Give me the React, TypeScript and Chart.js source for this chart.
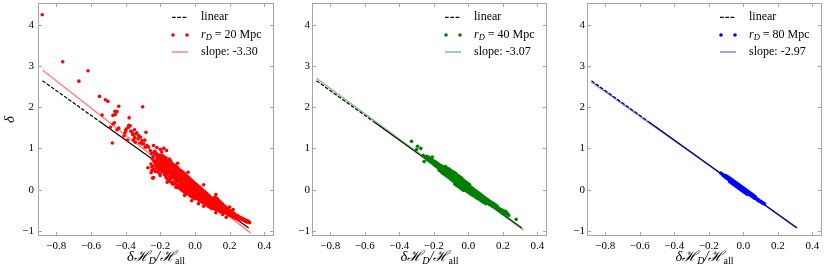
import React, { useEffect, useRef } from "react";
import { Chart, registerables } from "chart.js";

Chart.register(...registerables);

// ---------- tick labels / axis limits ----------
const xTicks = [-0.8, -0.6, -0.4, -0.2, 0.0, 0.2, 0.4];
const yTicks = [-1, 0, 1, 2, 3, 4];
const xLimits = [-0.9, 0.45];
const yLimits = [-1.1, 4.5];

// ---------- legend labels ----------
const radii = ["20", "40", "80"];
const slopeLabels = ["slope: -3.30", "slope: -3.07", "slope: -2.97"];

// ---------- lines ----------
const linearLine: [number, number][] = [[-0.88, 2.64], [-0.55, 1.65], [0.31, -0.93]];
const slopeLine20: [number, number][] = [[-0.88, 2.9], [0.32, -1.05]];
const slopeLine40: [number, number][] = [[-0.88, 2.7], [0.32, -0.98]];
const slopeLine80: [number, number][] = [[-0.88, 2.61], [0.31, -0.92]];

// ---------- scatter points: r_D = 20 Mpc ----------
const points20: [number, number][] = [
  [-0.881, 4.24], [-0.763, 3.1], [-0.617, 2.88], [-0.67, 2.63], [-0.551, 2.26], [-0.517, 2.18], [-0.503, 2.14],
  [-0.44, 2.02], [-0.302, 2.01], [-0.536, 1.81], [-0.473, 1.8], [-0.46, 1.82], [-0.45, 1.89], [-0.462, 1.9],
  [-0.38, 1.74], [-0.488, 1.51], [-0.473, 1.59], [-0.465, 1.62], [-0.44, 1.49], [-0.45, 1.45], [-0.397, 1.47],
  [-0.374, 1.55], [-0.384, 1.51], [-0.382, 1.56], [-0.477, 1.13], [-0.404, 1.37], [-0.4, 1.43], [-0.363, 1.39],
  [-0.359, 1.33], [-0.349, 1.45], [-0.344, 1.35], [-0.335, 1.38], [-0.325, 1.31], [-0.348, 1.26], [-0.329, 1.23],
  [-0.315, 1.27], [-0.306, 1.19], [-0.319, 1.13], [-0.296, 1.11], [-0.283, 1.39], [-0.277, 1.07], [-0.268, 1.03],
  [-0.258, 0.95], [-0.239, 1.07], [-0.344, 1.15], [-0.306, 1.11], [-0.287, 1.03], [-0.37, 1.42], [-0.39, 1.2],
  [-0.41, 1.3], [-0.355, 1.2], [-0.29, 1.2], [-0.272, 0.53], [-0.249, 0.46], [-0.239, 0.29], [-0.245, 0.28],
  [-0.192, 0.91], [-0.164, 0.95], [-0.135, 0.34], [-0.201, 0.34], [-0.131, 0.14], [-0.16, 0.18], [-0.1, 0.05],
  [-0.2, 0.98], [-0.22, 1.02], [-0.18, 1.0], [-0.1, 0.64], [-0.04, 0.42], [0.05, 0.12], [0.12, -0.12],
  [0.12, -0.56], [0.16, -0.6], [0.18, -0.67], [0.2, -0.42], [0.22, -0.48], [0.05, -0.4], [0.02, -0.34],
  [-0.02, -0.27], [-0.06, -0.14], [-0.11, 0.06],
  [-0.251, 0.88], [-0.246, 0.74], [-0.254, 0.62], [-0.249, 0.55], [-0.253, 0.41],
  [-0.238, 0.9], [-0.242, 0.8], [-0.236, 0.69], [-0.241, 0.57], [-0.239, 0.49],
  [-0.232, 0.93], [-0.228, 0.85], [-0.231, 0.66], [-0.226, 0.6], [-0.229, 0.44],
  [-0.221, 0.87], [-0.218, 0.78], [-0.223, 0.7], [-0.216, 0.62], [-0.222, 0.53], [-0.219, 0.45],
  [-0.211, 0.84], [-0.207, 0.74], [-0.213, 0.67], [-0.209, 0.58], [-0.206, 0.5], [-0.212, 0.42],
  [-0.198, 0.82], [-0.203, 0.76], [-0.197, 0.68], [-0.2, 0.61], [-0.204, 0.55], [-0.196, 0.47], [-0.202, 0.38],
  [-0.191, 0.83], [-0.187, 0.77], [-0.193, 0.71], [-0.189, 0.64], [-0.186, 0.57], [-0.192, 0.5], [-0.188, 0.43],
  [-0.181, 0.8], [-0.177, 0.74], [-0.183, 0.66], [-0.178, 0.59], [-0.184, 0.52], [-0.179, 0.45], [-0.176, 0.36],
  [-0.168, 0.77], [-0.173, 0.69], [-0.166, 0.62], [-0.172, 0.55], [-0.169, 0.49], [-0.174, 0.41], [-0.167, 0.3],
  [-0.157, 0.72], [-0.163, 0.65], [-0.158, 0.58], [-0.156, 0.51], [-0.162, 0.44], [-0.159, 0.37], [-0.161, 0.26],
  [-0.148, 0.74], [-0.153, 0.68], [-0.147, 0.6], [-0.152, 0.53], [-0.149, 0.46], [-0.154, 0.39], [-0.146, 0.31], [-0.15, 0.22],
  [-0.141, 0.7], [-0.143, 0.62], [-0.138, 0.55], [-0.144, 0.48], [-0.139, 0.41], [-0.136, 0.34], [-0.142, 0.27], [-0.137, 0.18],
  [-0.133, 0.64], [-0.128, 0.57], [-0.126, 0.5], [-0.132, 0.43], [-0.129, 0.36], [-0.134, 0.29], [-0.127, 0.18],
  [-0.123, 0.6], [-0.117, 0.52], [-0.122, 0.45], [-0.119, 0.38], [-0.124, 0.31], [-0.116, 0.24], [-0.12, 0.13],
  [-0.113, 0.58], [-0.107, 0.51], [-0.112, 0.44], [-0.109, 0.37], [-0.114, 0.3], [-0.106, 0.22], [-0.11, 0.15],
  [-0.103, 0.55], [-0.097, 0.48], [-0.102, 0.41], [-0.099, 0.34], [-0.104, 0.27], [-0.096, 0.2], [-0.1, 0.1],
  [-0.093, 0.5], [-0.087, 0.43], [-0.092, 0.36], [-0.089, 0.29], [-0.094, 0.22], [-0.086, 0.15], [-0.09, 0.08], [-0.088, 0.03],
  [-0.083, 0.46], [-0.077, 0.39], [-0.082, 0.32], [-0.079, 0.25], [-0.084, 0.18], [-0.076, 0.11], [-0.08, 0.04], [-0.078, -0.01],
  [-0.073, 0.43], [-0.067, 0.36], [-0.072, 0.29], [-0.069, 0.22], [-0.074, 0.15], [-0.066, 0.08], [-0.07, 0.02], [-0.068, -0.04],
  [-0.063, 0.4], [-0.057, 0.33], [-0.062, 0.26], [-0.059, 0.19], [-0.064, 0.12], [-0.056, 0.05], [-0.06, -0.02], [-0.058, -0.08],
  [-0.053, 0.36], [-0.047, 0.29], [-0.052, 0.22], [-0.049, 0.15], [-0.054, 0.08], [-0.046, 0.01], [-0.05, -0.05], [-0.048, -0.1],
  [-0.043, 0.32], [-0.037, 0.25], [-0.042, 0.18], [-0.039, 0.11], [-0.044, 0.04], [-0.036, -0.03], [-0.04, -0.1],
  [-0.033, 0.28], [-0.027, 0.21], [-0.032, 0.14], [-0.029, 0.07], [-0.034, 0.0], [-0.026, -0.07], [-0.03, -0.14],
  [-0.023, 0.24], [-0.017, 0.17], [-0.022, 0.1], [-0.019, 0.03], [-0.024, -0.04], [-0.016, -0.11], [-0.02, -0.17],
  [-0.013, 0.2], [-0.007, 0.13], [-0.012, 0.06], [-0.009, -0.01], [-0.014, -0.08], [-0.006, -0.15], [-0.01, -0.2],
  [-0.003, 0.16], [0.003, 0.09], [-0.002, 0.02], [0.001, -0.05], [-0.004, -0.12], [0.004, -0.19], [0.0, -0.22],
  [0.007, 0.13], [0.013, 0.06], [0.008, -0.01], [0.011, -0.08], [0.006, -0.15], [0.014, -0.22],
  [0.017, 0.09], [0.023, 0.02], [0.018, -0.05], [0.021, -0.12], [0.016, -0.19], [0.024, -0.26],
  [0.027, 0.06], [0.033, -0.01], [0.028, -0.08], [0.031, -0.15], [0.026, -0.22], [0.034, -0.28],
  [0.037, 0.02], [0.043, -0.05], [0.038, -0.12], [0.041, -0.19], [0.036, -0.26], [0.044, -0.31],
  [0.047, -0.02], [0.053, -0.09], [0.048, -0.16], [0.051, -0.23], [0.046, -0.3],
  [0.057, -0.05], [0.063, -0.12], [0.058, -0.19], [0.061, -0.26], [0.056, -0.33],
  [0.067, -0.09], [0.073, -0.16], [0.068, -0.23], [0.071, -0.3], [0.066, -0.36],
  [0.077, -0.13], [0.083, -0.2], [0.078, -0.27], [0.081, -0.34], [0.076, -0.4],
  [0.087, -0.17], [0.093, -0.24], [0.088, -0.31], [0.091, -0.38], [0.086, -0.43],
  [0.097, -0.21], [0.103, -0.28], [0.098, -0.35], [0.101, -0.41], [0.096, -0.46],
  [0.112, -0.19], [0.107, -0.26], [0.113, -0.33], [0.108, -0.4], [0.111, -0.46],
  [0.119, -0.2], [0.122, -0.24], [0.117, -0.31], [0.123, -0.38], [0.118, -0.44], [0.121, -0.49],
  [0.129, -0.22], [0.132, -0.29], [0.127, -0.36], [0.133, -0.42], [0.128, -0.48],
  [0.139, -0.27], [0.142, -0.33], [0.137, -0.4], [0.143, -0.46], [0.138, -0.51],
  [0.149, -0.31], [0.152, -0.38], [0.147, -0.44], [0.153, -0.5], [0.148, -0.54],
  [0.159, -0.35], [0.162, -0.42], [0.157, -0.48], [0.163, -0.53],
  [0.169, -0.39], [0.172, -0.45], [0.167, -0.51], [0.173, -0.56],
  [0.179, -0.43], [0.182, -0.49], [0.177, -0.54], [0.183, -0.58],
  [0.189, -0.47], [0.192, -0.52], [0.187, -0.57], [0.193, -0.61],
  [0.199, -0.5], [0.202, -0.55], [0.197, -0.6], [0.203, -0.63],
  [0.209, -0.53], [0.212, -0.58], [0.207, -0.63],
  [0.219, -0.56], [0.222, -0.61], [0.217, -0.66],
  [0.229, -0.59], [0.232, -0.64], [0.227, -0.68],
  [0.239, -0.62], [0.242, -0.66], [0.237, -0.7],
  [0.249, -0.64], [0.252, -0.69], [0.247, -0.72],
  [0.259, -0.67], [0.262, -0.71], [0.269, -0.69], [0.272, -0.73],
  [0.279, -0.71], [0.282, -0.75], [0.289, -0.73], [0.292, -0.77],
  [0.299, -0.75], [0.302, -0.79], [0.309, -0.77], [0.315, -0.8],
];

// ---------- scatter points: r_D = 40 Mpc ----------
const points40: [number, number][] = [
  [-0.329, 1.17], [-0.294, 1.05], [-0.3, 0.97], [-0.275, 1.0], [-0.262, 0.83], [-0.252, 0.79], [-0.243, 0.81],
  [-0.233, 0.77], [-0.256, 0.68], [-0.223, 0.71], [-0.209, 0.79], [-0.205, 0.68], [0.214, -0.61], [0.234, -0.63],
  [0.277, -0.72], [0.2, -0.58], [0.23, -0.59],
  [-0.24, 0.78], [-0.238, 0.73], [-0.231, 0.75], [-0.228, 0.7], [-0.232, 0.79],
  [-0.221, 0.72], [-0.218, 0.67], [-0.223, 0.76], [-0.211, 0.69], [-0.208, 0.64], [-0.212, 0.73],
  [-0.201, 0.66], [-0.198, 0.6], [-0.203, 0.7], [-0.191, 0.63], [-0.188, 0.57], [-0.193, 0.68],
  [-0.181, 0.6], [-0.178, 0.54], [-0.183, 0.65], [-0.171, 0.57], [-0.168, 0.51], [-0.173, 0.62], [-0.169, 0.47],
  [-0.161, 0.54], [-0.158, 0.48], [-0.163, 0.59], [-0.159, 0.44], [-0.151, 0.51], [-0.148, 0.45], [-0.153, 0.57], [-0.149, 0.4],
  [-0.141, 0.48], [-0.138, 0.42], [-0.143, 0.54], [-0.139, 0.37],
  [-0.131, 0.45], [-0.128, 0.39], [-0.133, 0.51], [-0.129, 0.34], [-0.132, 0.56],
  [-0.121, 0.42], [-0.118, 0.36], [-0.123, 0.48], [-0.119, 0.31], [-0.122, 0.52],
  [-0.111, 0.39], [-0.108, 0.33], [-0.113, 0.45], [-0.109, 0.28], [-0.112, 0.5],
  [-0.101, 0.36], [-0.098, 0.3], [-0.103, 0.42], [-0.099, 0.24], [-0.102, 0.47],
  [-0.091, 0.33], [-0.088, 0.27], [-0.093, 0.39], [-0.089, 0.21], [-0.092, 0.44],
  [-0.081, 0.3], [-0.078, 0.24], [-0.083, 0.36], [-0.079, 0.18], [-0.082, 0.42], [-0.077, 0.13],
  [-0.071, 0.27], [-0.068, 0.21], [-0.073, 0.33], [-0.069, 0.15], [-0.072, 0.39], [-0.067, 0.1],
  [-0.061, 0.24], [-0.058, 0.18], [-0.063, 0.3], [-0.059, 0.12], [-0.062, 0.35], [-0.057, 0.07],
  [-0.051, 0.21], [-0.048, 0.15], [-0.053, 0.27], [-0.049, 0.09], [-0.052, 0.32], [-0.047, 0.04],
  [-0.041, 0.18], [-0.038, 0.12], [-0.043, 0.24], [-0.039, 0.06], [-0.042, 0.29], [-0.037, 0.01],
  [-0.031, 0.15], [-0.028, 0.09], [-0.033, 0.21], [-0.029, 0.03], [-0.032, 0.25], [-0.027, -0.02],
  [-0.021, 0.11], [-0.018, 0.05], [-0.023, 0.17], [-0.019, -0.01], [-0.022, 0.21],
  [-0.011, 0.08], [-0.008, 0.02], [-0.013, 0.14], [-0.009, -0.04], [-0.012, 0.18],
  [-0.001, 0.05], [0.002, -0.01], [-0.003, 0.11], [0.001, -0.07], [-0.002, 0.15],
  [0.009, 0.02], [0.012, -0.04], [0.007, 0.08], [0.011, -0.1], [0.008, 0.12],
  [0.019, -0.01], [0.022, -0.07], [0.017, 0.05], [0.021, -0.13],
  [0.029, -0.04], [0.032, -0.1], [0.027, 0.02], [0.031, -0.15],
  [0.039, -0.07], [0.042, -0.13], [0.037, -0.01], [0.041, -0.18],
  [0.049, -0.1], [0.052, -0.16], [0.047, -0.04], [0.051, -0.21],
  [0.059, -0.13], [0.062, -0.19], [0.057, -0.07], [0.061, -0.23],
  [0.069, -0.16], [0.072, -0.22], [0.067, -0.1], [0.071, -0.26],
  [0.079, -0.19], [0.082, -0.25], [0.077, -0.13], [0.081, -0.29],
  [0.089, -0.22], [0.092, -0.28], [0.087, -0.17], [0.091, -0.31],
  [0.099, -0.25], [0.102, -0.31], [0.097, -0.2], [0.101, -0.34],
  [0.109, -0.28], [0.112, -0.33], [0.107, -0.23], [0.119, -0.31], [0.122, -0.36], [0.117, -0.26],
  [0.129, -0.33], [0.132, -0.38], [0.127, -0.29], [0.139, -0.36], [0.142, -0.41], [0.137, -0.32],
  [0.149, -0.38], [0.152, -0.43], [0.147, -0.34], [0.159, -0.41], [0.162, -0.45], [0.157, -0.37],
  [0.169, -0.43], [0.172, -0.47], [0.167, -0.4], [0.179, -0.46], [0.182, -0.49],
  [0.189, -0.48], [0.192, -0.51], [0.199, -0.5], [0.202, -0.53], [0.209, -0.52], [0.212, -0.55],
  [0.219, -0.54], [0.222, -0.57],
];

// ---------- scatter points: r_D = 80 Mpc ----------
const points80: [number, number][] = [
  [-0.13, 0.4], [-0.121, 0.37], [-0.118, 0.35], [-0.111, 0.34], [-0.108, 0.31],
  [-0.101, 0.31], [-0.098, 0.28], [-0.103, 0.34], [-0.091, 0.29], [-0.088, 0.25], [-0.093, 0.32],
  [-0.081, 0.26], [-0.078, 0.22], [-0.083, 0.29], [-0.079, 0.19],
  [-0.071, 0.23], [-0.068, 0.19], [-0.073, 0.26], [-0.069, 0.16],
  [-0.061, 0.2], [-0.058, 0.16], [-0.063, 0.23], [-0.059, 0.13],
  [-0.051, 0.17], [-0.048, 0.13], [-0.053, 0.2], [-0.049, 0.1],
  [-0.041, 0.14], [-0.038, 0.1], [-0.043, 0.17], [-0.039, 0.07],
  [-0.031, 0.11], [-0.028, 0.07], [-0.033, 0.14], [-0.029, 0.04],
  [-0.021, 0.08], [-0.018, 0.04], [-0.023, 0.11], [-0.019, 0.01],
  [-0.011, 0.05], [-0.008, 0.01], [-0.013, 0.08], [-0.009, -0.02],
  [-0.001, 0.02], [0.002, -0.02], [-0.003, 0.05], [0.001, -0.05],
  [0.009, -0.01], [0.012, -0.05], [0.007, 0.02], [0.011, -0.08],
  [0.019, -0.04], [0.022, -0.08], [0.017, -0.01], [0.021, -0.11],
  [0.029, -0.07], [0.032, -0.11], [0.027, -0.04], [0.039, -0.1], [0.042, -0.14], [0.037, -0.07],
  [0.049, -0.13], [0.052, -0.17], [0.047, -0.1], [0.059, -0.16], [0.062, -0.2], [0.057, -0.13],
  [0.069, -0.19], [0.072, -0.22], [0.067, -0.16], [0.079, -0.22], [0.082, -0.25],
  [0.089, -0.25], [0.092, -0.28], [0.099, -0.28], [0.102, -0.3], [0.109, -0.31], [0.112, -0.33],
  [0.119, -0.33], [0.123, -0.35],
];

const SERIF = "'Liberation Serif', 'Times New Roman', 'DejaVu Serif', serif";
const FRAME = "#a6a6a6";

type Part = { t: string; font: string; dy?: number };

function drawRich(ctx: CanvasRenderingContext2D, parts: Part[], x: number, y: number, align: "left" | "center") {
  let total = 0;
  const widths = parts.map((p) => {
    ctx.font = p.font;
    const w = ctx.measureText(p.t).width;
    total += w;
    return w;
  });
  let cx = align === "center" ? x - total / 2 : x;
  ctx.textAlign = "left";
  parts.forEach((p, i) => {
    ctx.font = p.font;
    ctx.fillText(p.t, cx, y + (p.dy || 0));
    cx += widths[i];
  });
}

function fmtX(v: number) {
  const s = Math.abs(v).toFixed(1);
  return v < -1e-9 ? "\u2212" + s : s;
}
function fmtY(v: number) {
  const s = Math.abs(v).toFixed(0);
  return v < -1e-9 ? "\u2212" + s : s;
}

type PanelProps = {
  idx: number;
  left: number;
  width: number;
  color: string;
  fade: string;
  points: [number, number][];
  slopeLine: [number, number][];
  yPad: number;
};

function Panel({ idx, left, width, color, fade, points, slopeLine, yPad }: PanelProps) {
  const ref = useRef<HTMLCanvasElement | null>(null);

  useEffect(() => {
    if (!ref.current) return;
    const toXY = (a: [number, number][]) => a.map(([x, y]) => ({ x, y }));

    const decor = {
      id: "decor" + idx,
      afterDraw(chart: any) {
        const { ctx, chartArea } = chart;
        const { left: l, right: r, top: t, bottom: b } = chartArea;
        const xs = chart.scales.x;
        const ys = chart.scales.y;
        ctx.save();
        // frame
        ctx.strokeStyle = FRAME;
        ctx.lineWidth = 1;
        const L = Math.round(l) - 0.5, R = Math.round(r) + 0.5, T = Math.round(t) - 0.5, B = Math.round(b) + 0.5;
        ctx.strokeRect(L, T, R - L, B - T);
        // inward ticks
        ctx.beginPath();
        xTicks.forEach((v) => {
          const px = Math.round(xs.getPixelForValue(v)) + 0.5;
          ctx.moveTo(px, B); ctx.lineTo(px, B - 3.5);
          ctx.moveTo(px, T); ctx.lineTo(px, T + 3.5);
        });
        yTicks.forEach((v) => {
          const py = Math.round(ys.getPixelForValue(v)) + 0.5;
          ctx.moveTo(L, py); ctx.lineTo(L + 3.5, py);
          ctx.moveTo(R, py); ctx.lineTo(R - 3.5, py);
        });
        ctx.stroke();

        // legend
        ctx.fillStyle = "#000";
        ctx.textBaseline = "middle";
        const rows = [t + 13.3, t + 31, t + 48];
        const s0 = r - 101, s1 = r - 85, tx = r - 72;
        // linear
        ctx.strokeStyle = "#000";
        ctx.lineWidth = 1.2;
        ctx.setLineDash([3.7, 1.6]);
        ctx.beginPath(); ctx.moveTo(s0, rows[0]); ctx.lineTo(s1, rows[0]); ctx.stroke();
        ctx.setLineDash([]);
        ctx.font = `12px ${SERIF}`;
        ctx.fillText("linear", tx, rows[0]);
        // points
        ctx.fillStyle = color;
        [s0 + 1, s1 - 1].forEach((px) => {
          ctx.beginPath(); ctx.arc(px, rows[1], 1.8, 0, Math.PI * 2); ctx.fill();
        });
        ctx.fillStyle = "#000";
        drawRich(ctx, [
          { t: "r", font: `italic 12px ${SERIF}` },
          { t: "D", font: `italic 8.5px ${SERIF}`, dy: 2.5 },
          { t: " = " + radii[idx] + " Mpc", font: `12px ${SERIF}` },
        ], tx, rows[1], "left");
        // slope
        ctx.strokeStyle = fade;
        ctx.lineWidth = 1.5;
        ctx.beginPath(); ctx.moveTo(s0, rows[2]); ctx.lineTo(s1, rows[2]); ctx.stroke();
        ctx.font = `12px ${SERIF}`;
        ctx.fillText(slopeLabels[idx], tx, rows[2]);

        // x title
        ctx.textBaseline = "alphabetic";
        drawRich(ctx, [
          { t: "\u03B4\u210B", font: `italic 14.5px ${SERIF}` },
          { t: "D", font: `italic 10px ${SERIF}`, dy: 3 },
          { t: "/\u210B", font: `italic 14.5px ${SERIF}` },
          { t: "all", font: `10px ${SERIF}`, dy: 3 },
        ], (l + r) / 2, 261, "center");

        // y title (first panel only)
        if (idx === 0) {
          ctx.save();
          ctx.translate(14, (t + b) / 2);
          ctx.rotate(-Math.PI / 2);
          ctx.textAlign = "center";
          ctx.textBaseline = "alphabetic";
          ctx.font = `italic 15px ${SERIF}`;
          ctx.fillText("\u03B4", 0, 0);
          ctx.restore();
        }
        ctx.restore();
      },
    };

    const chart = new Chart(ref.current, {
      type: "scatter",
      data: {
        datasets: [
          {
            type: "scatter",
            data: toXY(points),
            backgroundColor: color,
            borderWidth: 0,
            pointRadius: 1.8,
            order: 0,
          } as any,
          {
            type: "line",
            data: toXY(linearLine.slice(0, 2)),
            borderColor: "#000",
            borderWidth: 1.2,
            borderDash: [3.7, 1.6],
            pointRadius: 0,
            tension: 0,
            fill: false,
            order: 2,
          } as any,
          {
            type: "line",
            data: toXY(linearLine.slice(1)),
            borderColor: "#000",
            borderWidth: 1.2,
            pointRadius: 0,
            tension: 0,
            fill: false,
            order: 2,
          } as any,
          {
            type: "line",
            data: toXY(slopeLine),
            borderColor: fade,
            borderWidth: 1.5,
            pointRadius: 0,
            tension: 0,
            fill: false,
            order: 1,
          } as any,
        ],
      },
      options: {
        animation: false,
        responsive: false,
        devicePixelRatio: 1,
        events: [],
        layout: { padding: { left: 0, right: 1, top: 3, bottom: 0 } },
        plugins: { legend: { display: false }, tooltip: { enabled: false } },
        scales: {
          x: {
            type: "linear",
            min: xLimits[0],
            max: xLimits[1],
            grid: { display: false, drawTicks: false },
            border: { display: false },
            ticks: {
              padding: 5,
              autoSkip: false,
              maxRotation: 0,
              color: "#000",
              font: { family: SERIF, size: 11 },
              callback: (v: any) => fmtX(Number(v)),
            },
            afterBuildTicks: (s: any) => { s.ticks = xTicks.map((v) => ({ value: v })); },
            afterFit: (s: any) => { s.height = 42; s.paddingLeft = 0; s.paddingRight = 0; },
          },
          y: {
            type: "linear",
            min: yLimits[0],
            max: yLimits[1],
            grid: { display: false, drawTicks: false },
            border: { display: false },
            ticks: {
              padding: yPad,
              autoSkip: false,
              color: "#000",
              font: { family: SERIF, size: 11 },
              callback: (v: any) => fmtY(Number(v)),
            },
            afterBuildTicks: (s: any) => { s.ticks = yTicks.map((v) => ({ value: v })); },
            afterFit: (s: any) => { s.width = 39; s.paddingTop = 0; s.paddingBottom = 0; },
          },
        },
      } as any,
      plugins: [decor],
    });
    return () => chart.destroy();
  }, []);

  return (
    <canvas
      ref={ref}
      width={width}
      height={277}
      style={{ position: "absolute", left, top: 0, width, height: 277 }}
    />
  );
}

export default function App() {
  return (
    <div style={{ position: "fixed", left: 0, top: 0, width: 830, height: 277, background: "#fff" }}>
      <Panel idx={0} left={0} width={277} color="#ff0000" fade="rgba(255,0,0,0.5)" points={points20} slopeLine={slopeLine20} yPad={5} />
      <Panel idx={1} left={274} width={276} color="#008000" fade="rgba(0,128,0,0.5)" points={points40} slopeLine={slopeLine40} yPad={3} />
      <Panel idx={2} left={549} width={276} color="#0000ff" fade="rgba(0,0,255,0.5)" points={points80} slopeLine={slopeLine80} yPad={3} />
    </div>
  );
}
